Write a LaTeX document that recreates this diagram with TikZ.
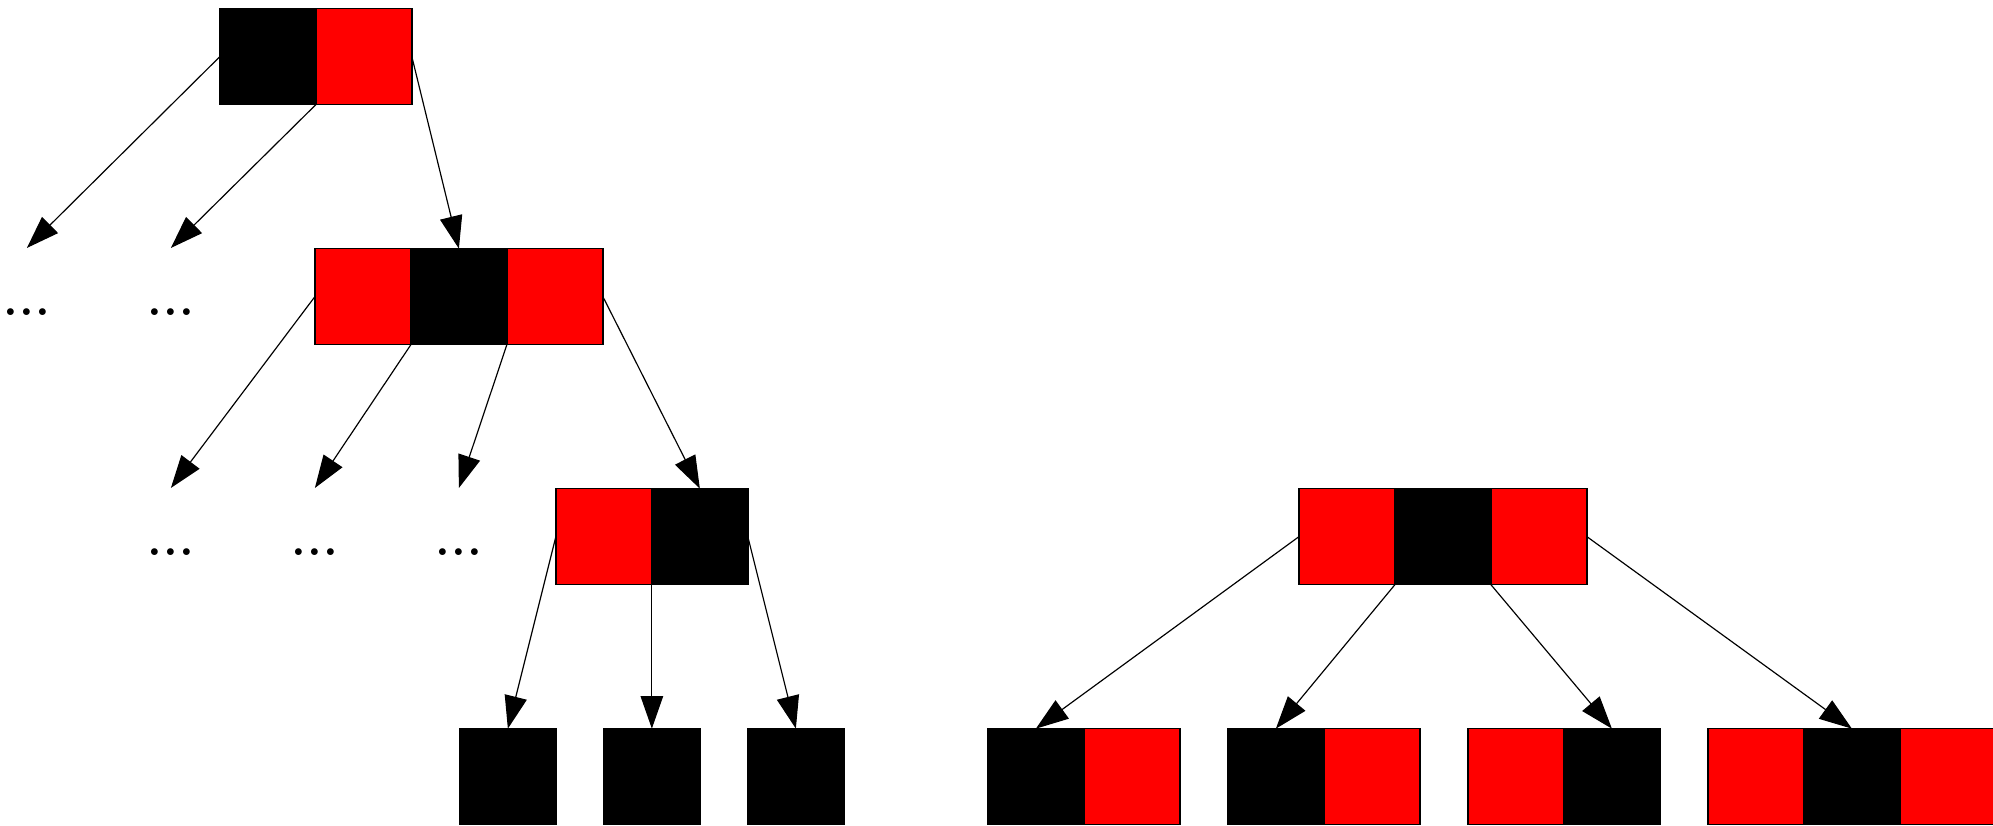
\documentclass[tikz,border=0pt]{standalone}
\usepackage{tikz}
\usetikzlibrary{arrows.meta}
\usetikzlibrary{positioning}
\definecolor{keyred}{RGB}{255,0,0}
\definecolor{keyblack}{RGB}{0,0,0}
\newcommand{\threedots}{.\kern0.3pt.\kern0.3pt.}
\tikzset{
  cell/.style={draw=black,line width=0.4pt,minimum width=1cm,minimum height=1cm,
               inner sep=0pt,outer sep=0pt},
  redcell/.style={cell,fill=keyred},
  blackcell/.style={cell,fill=keyblack},
  more/.style={font=\fontsize{14}{16}\selectfont\bfseries,inner sep=0pt,
               text height=2.4pt,text depth=0pt,minimum height=1.3cm},
  link/.style={-{Triangle[length=3.4mm,width=2.35mm]},line width=0.35pt}
}

\begin{document}
\begin{tikzpicture}
    \useasboundingbox (0,0) rectangle (20.76,-8.594);
    % root
    \node[blackcell] (t1) at (2.79,-0.59) {};
    \node[redcell,right=0pt of t1] (t2) {};
    % second level
    \node[redcell] (m1) at (3.78,-3.09) {};
    \node[blackcell,right=0pt of m1] (m2) {};
    \node[redcell,right=0pt of m2] (m3) {};
    % third level
    \node[redcell] (k1) at (6.29,-5.59) {};
    \node[blackcell,right=0pt of k1] (k2) {};
    % leaves
    \node[blackcell] (l1) at (5.29,-8.09) {};
    \node[blackcell] (l2) at (6.79,-8.09) {};
    \node[blackcell] (l3) at (8.29,-8.09) {};
    % omitted subtrees
    \node[more] (d1) at (0.28,-3.24) {\threedots};
    \node[more] (d2) at (1.78,-3.24) {\threedots};
    \node[more] (e1) at (1.78,-5.74) {\threedots};
    \node[more] (e2) at (3.28,-5.74) {\threedots};
    \node[more] (e3) at (4.78,-5.74) {\threedots};
    % root links
    \draw[link] (t1.west) -- (d1.north);
    \draw[link] (t1.south east) -- (d2.north);
    \draw[link] (t2.east) -- (m2.north);
    % second level links
    \draw[link] (m1.west) -- (e1.north);
    \draw[link] (m1.south east) -- (e2.north);
    \draw[link] (m2.south east) -- (e3.north);
    \draw[link] (m3.east) -- (k2.north);
    % third level links
    \draw[link] (k1.west) -- (l1.north);
    \draw[link] (k1.south east) -- (l2.north);
    \draw[link] (k2.east) -- (l3.north);

    % 4-node on the right
    \node[redcell] (n1) at (14.03,-5.59) {};
    \node[blackcell,right=0pt of n1] (n2) {};
    \node[redcell,right=0pt of n2] (n3) {};
    % its children
    \node[blackcell] (p1) at (10.79,-8.09) {};
    \node[redcell,right=0pt of p1] (p2) {};
    \node[blackcell] (q1) at (13.29,-8.09) {};
    \node[redcell,right=0pt of q1] (q2) {};
    \node[redcell] (s1) at (15.79,-8.09) {};
    \node[blackcell,right=0pt of s1] (s2) {};
    \node[redcell] (u1) at (18.29,-8.09) {};
    \node[blackcell,right=0pt of u1] (u2) {};
    \node[redcell,right=0pt of u2] (u3) {};
    \draw[link] (n1.west) -- (p1.north);
    \draw[link] (n1.south east) -- (q1.north);
    \draw[link] (n2.south east) -- (s2.north);
    \draw[link] (n3.east) -- (u2.north);
\end{tikzpicture}
\end{document}
